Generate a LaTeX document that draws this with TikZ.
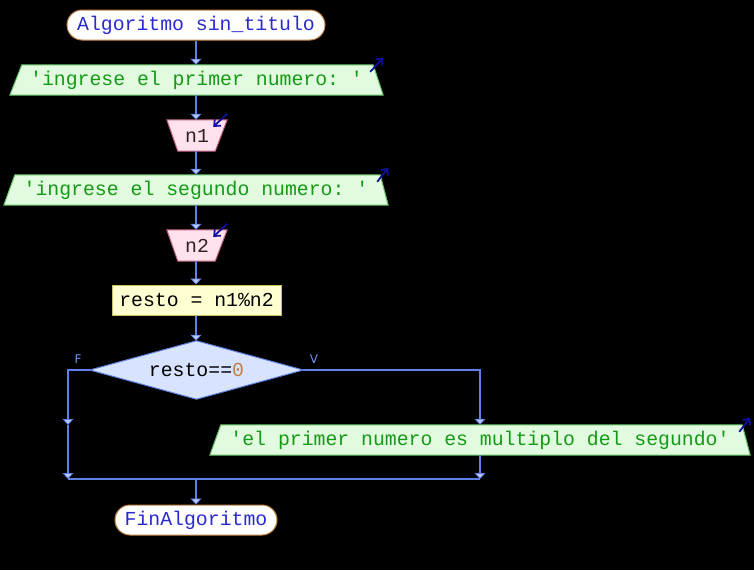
\documentclass[tikz,border=0pt]{standalone}
\usepackage{fontspec}
\setmonofont{Liberation Mono}
\setsansfont{DejaVu Sans}
\usetikzlibrary{arrows.meta,calc}
\definecolor{conn}{HTML}{5F80E8}
\definecolor{arrfill}{HTML}{B8C8FA}
\definecolor{termdraw}{HTML}{C08040}
\definecolor{termtext}{HTML}{2A2AD0}
\definecolor{outfill}{HTML}{E2FBE0}
\definecolor{outdraw}{HTML}{60C060}
\definecolor{outtext}{HTML}{149A14}
\definecolor{infill}{HTML}{FFE2EE}
\definecolor{indraw}{HTML}{C06080}
\definecolor{intext}{HTML}{302020}
\definecolor{procfill}{HTML}{FFFFD2}
\definecolor{procdraw}{HTML}{C8C060}
\definecolor{decfill}{HTML}{D8E4FF}
\definecolor{decdraw}{HTML}{6080E0}
\definecolor{zerocol}{HTML}{C08040}
\definecolor{smallarr}{HTML}{1010A0}
\definecolor{lblcol}{HTML}{7090F0}
\tikzset{
  txt/.style={font=\ttfamily\fontsize{19.8}{22}\selectfont, inner sep=0pt},
  term/.style={txt, draw=termdraw, fill=white, rounded corners=15pt, minimum height=30pt, text=termtext, line width=1pt},
  outbox/.style={txt, minimum height=30pt, text=outtext},
  inbox/.style={txt, minimum height=31pt, minimum width=60pt, text=intext},
  outshape/.style={fill=outfill, draw=outdraw, line width=1pt},
  inshape/.style={fill=infill, draw=indraw, line width=1pt},
  proc/.style={txt, draw=procdraw, fill=procfill, minimum width=169pt, minimum height=30pt, line width=1pt, text=black},
  decbox/.style={txt, minimum width=213pt, minimum height=58pt},
  decshape/.style={fill=decfill, draw=decdraw, line width=1pt},
  conline/.style={draw=conn, line width=1.6pt},
  conarr/.style={conline, -{Triangle[width=11pt,length=6pt,fill=arrfill,line width=0.8pt]}},
  smallar/.style={draw=smallarr, line width=1.8pt, -{Straight Barb[length=5pt,width=9pt]}},
  lbl/.style={font=\sffamily\fontsize{12}{14}\selectfont, text=lblcol, inner sep=0pt}
}
\begin{document}
\begin{tikzpicture}[x=1pt,y=-1pt]
\fill[black] (0,0) rectangle (754,570);
\useasboundingbox (0,0) rectangle (754,570);

% start
\node[term, minimum width=258pt] (s) at (196,25) {Algoritmo sin\_titulo};

% output 1
\node[outbox, minimum width=373pt] (o1) at (196.5,80) {};
\path[outshape] (o1.south west) -- ([xshift=12pt]o1.north west) -- ([xshift=-10pt]o1.north east) -- (o1.south east) -- cycle;
\node[outbox] (o1t) at (o1.center) {'ingrese el primer numero: '};
\draw[smallar] ([xshift=-13pt,yshift=-7pt]o1.north east) -- ([xshift=0pt,yshift=7pt]o1.north east);

% input 1
\node[inbox] (i1) at (197,135.5) {};
\path[inshape] (i1.north west) -- (i1.north east) -- ([xshift=-12pt]i1.south east) -- ([xshift=11pt]i1.south west) -- cycle;
\node[inbox, minimum width=0pt] (i1t) at (i1.center) {n1};
\draw[smallar] ([yshift=6pt]i1.north east) -- ([xshift=-14pt,yshift=-7pt]i1.north east);

% output 2
\node[outbox, minimum width=384pt] (o2) at (196,190) {};
\path[outshape] (o2.south west) -- ([xshift=11pt]o2.north west) -- ([xshift=-8pt]o2.north east) -- (o2.south east) -- cycle;
\node[outbox] (o2t) at (o2.center) {'ingrese el segundo numero: '};
\draw[smallar] ([xshift=-11pt,yshift=-7pt]o2.north east) -- ([xshift=0pt,yshift=7pt]o2.north east);

% input 2
\node[inbox] (i2) at (197,245.5) {};
\path[inshape] (i2.north west) -- (i2.north east) -- ([xshift=-12pt]i2.south east) -- ([xshift=11pt]i2.south west) -- cycle;
\node[inbox, minimum width=0pt] (i2t) at (i2.center) {n2};
\draw[smallar] ([yshift=6pt]i2.north east) -- ([xshift=-14pt,yshift=-7pt]i2.north east);

% process
\node[proc] (p) at (196.5,300) {resto = n1\%n2};

% decision
\node[decbox] (d) at (196.5,370) {};
\path[decshape] (d.west) -- (d.north) -- (d.east) -- (d.south) -- cycle;
\node[txt] (dt) at (d.center) {resto==\textcolor{zerocol}{0}};
\node[lbl] (lf) at (78,359) {F};
\node[lbl] (lv) at (314,359) {V};

% output 3
\node[outbox, minimum width=540pt] (o3) at (480,440) {};
\path[outshape] (o3.south west) -- ([xshift=11pt]o3.north west) -- ([xshift=-8pt]o3.north east) -- (o3.south east) -- cycle;
\node[outbox] (o3t) at (o3.center) {'el primer numero es multiplo del segundo'};
\draw[smallar] ([xshift=-11pt,yshift=-7pt]o3.north east) -- ([xshift=0pt,yshift=7pt]o3.north east);

% end
\node[term, minimum width=162pt] (e) at (196,520) {FinAlgoritmo};

% junction coordinates
\coordinate (jl) at (68,370);
\coordinate (jl2) at (68,425);
\coordinate (jm) at (68,479);
\coordinate (jr) at (480,479);
\coordinate (jc) at (196,479);

% connectors
\draw[conarr] (s.south) -- (s.south |- o1.north);
\draw[conarr] (o1.south -| s.south) -- (s.south |- i1.north);
\draw[conarr] (i1.south -| s.south) -- (s.south |- o2.north);
\draw[conarr] (o2.south -| s.south) -- (s.south |- i2.north);
\draw[conarr] (i2.south -| s.south) -- (s.south |- p.north);
\draw[conarr] (p.south -| s.south) -- (s.south |- d.north);
\draw[conarr] (d.east) -| (o3.north);
\draw[conarr] (d.west) -- (jl) -- (jl2);
\draw[conarr] (jl2) -- (jm);
\draw[conarr] (o3.south) -- (jr);
\draw[conline] (jm) -- (jr);
\draw[conarr] (jc) -- (e.north);
\end{tikzpicture}
\end{document}
